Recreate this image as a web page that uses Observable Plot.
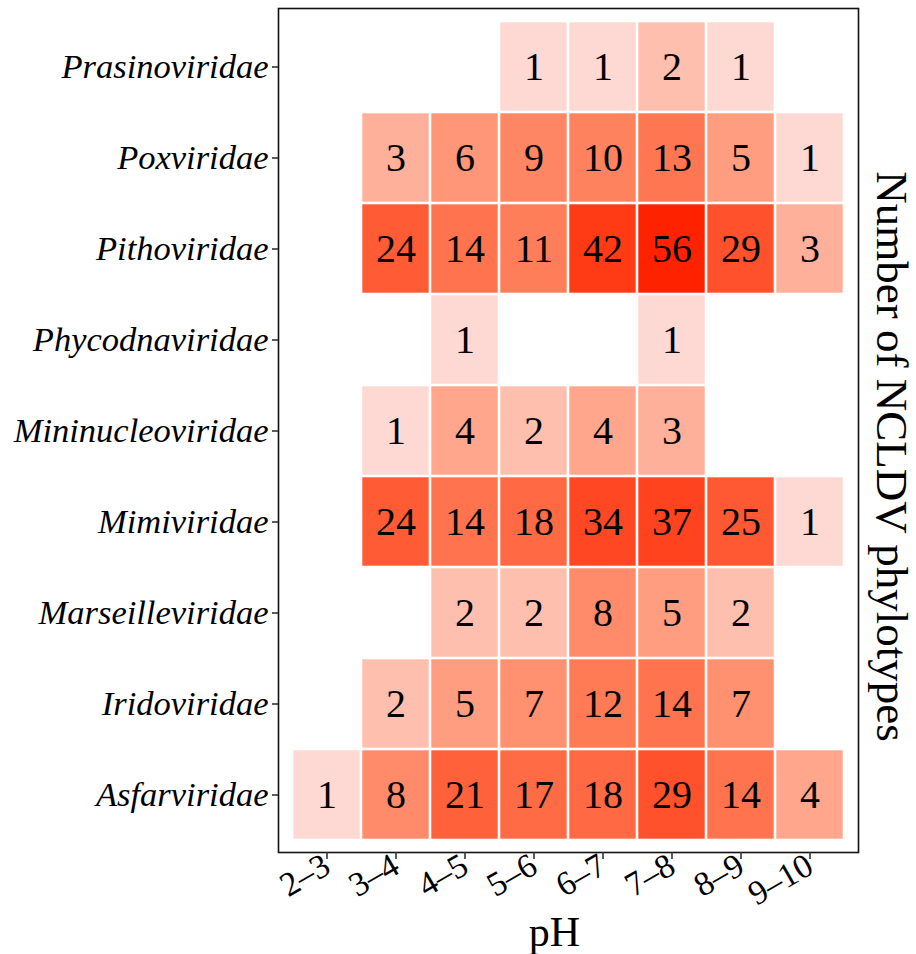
<!DOCTYPE html>
<html>
<head>
<meta charset="utf-8">
<script src="https://cdn.jsdelivr.net/npm/d3@7"></script>
<script src="https://cdn.jsdelivr.net/npm/@observablehq/plot@0.6"></script>
<style>
  html, body { margin: 0; padding: 0; background: #fff; }
  #chart svg { display: block; }
</style>
</head>
<body>
<div id="chart"></div>
<script>
// pH bins along the x axis
const phBins = ["2–3", "3–4", "4–5", "5–6", "6–7", "7–8", "8–9", "9–10"];

// NCLDV families, listed top to bottom
const families = [
  "Prasinoviridae", "Poxviridae", "Pithoviridae", "Phycodnaviridae",
  "Mininucleoviridae", "Mimiviridae", "Marseilleviridae", "Iridoviridae", "Asfarviridae"
];

// Number of phylotypes per pH bin (null = no phylotype found)
const prasinoviridae    = [null, null, null, 1, 1, 2, 1, null];
const poxviridae        = [null, 3, 6, 9, 10, 13, 5, 1];
const pithoviridae      = [null, 24, 14, 11, 42, 56, 29, 3];
const phycodnaviridae   = [null, null, 1, null, null, 1, null, null];
const mininucleoviridae = [null, 1, 4, 2, 4, 3, null, null];
const mimiviridae       = [null, 24, 14, 18, 34, 37, 25, 1];
const marseilleviridae  = [null, null, 2, 2, 8, 5, 2, null];
const iridoviridae      = [null, 2, 5, 7, 12, 14, 7, null];
const asfarviridae      = [1, 8, 21, 17, 18, 29, 14, 4];

const counts = [
  prasinoviridae, poxviridae, pithoviridae, phycodnaviridae,
  mininucleoviridae, mimiviridae, marseilleviridae, iridoviridae, asfarviridae
];

// Long-format table for the cell and text marks
const table = [];
families.forEach((family, i) => {
  phBins.forEach((ph, j) => {
    const n = counts[i][j];
    if (n != null) table.push({family, ph, n});
  });
});

const serif = "'Liberation Serif', 'Times New Roman', serif";

const chart = Plot.plot({
  width: 916,
  height: 954,
  marginLeft: 278,
  marginRight: 58,
  marginTop: 8,
  marginBottom: 102,
  style: {fontFamily: serif, background: "#fff", overflow: "visible"},
  x: {domain: phBins, paddingInner: 0, paddingOuter: 0.143, label: null},
  y: {domain: families, paddingInner: 0, paddingOuter: 0.087, label: null},
  color: {type: "log", domain: [1, 56], range: ["#fed8d2", "#ff2200"], interpolate: "lab"},
  marks: [
    Plot.cell(table, {x: "ph", y: "family", fill: "n", inset: 1.3}),
    Plot.text(table, {x: "ph", y: "family", text: "n", fontSize: 40, fill: "black", fontFamily: serif}),
    Plot.frame({stroke: "#111", strokeWidth: 1.6}),
    Plot.axisY({
      tickSize: 6, tickPadding: 4, fontSize: 34.5, fontStyle: "italic",
      stroke: "#333", strokeWidth: 1.6, fill: "black", label: null
    }),
    Plot.axisX({
      tickSize: 7, tickPadding: 3, fontSize: 34, tickRotate: -30,
      stroke: "#333", strokeWidth: 1.6, fill: "black", label: null
    }),
    Plot.text(["pH"], {
      frameAnchor: "bottom", lineAnchor: "bottom", dx: -14, dy: 93,
      fontSize: 42, fill: "black", fontFamily: serif
    }),
    Plot.text(["Number of NCLDV phylotypes"], {
      frameAnchor: "right", textAnchor: "middle", rotate: 90, dx: 33, dy: 26,
      fontSize: 45, fill: "black", fontFamily: serif
    })
  ]
});

document.getElementById("chart").append(chart);
</script>
</body>
</html>
